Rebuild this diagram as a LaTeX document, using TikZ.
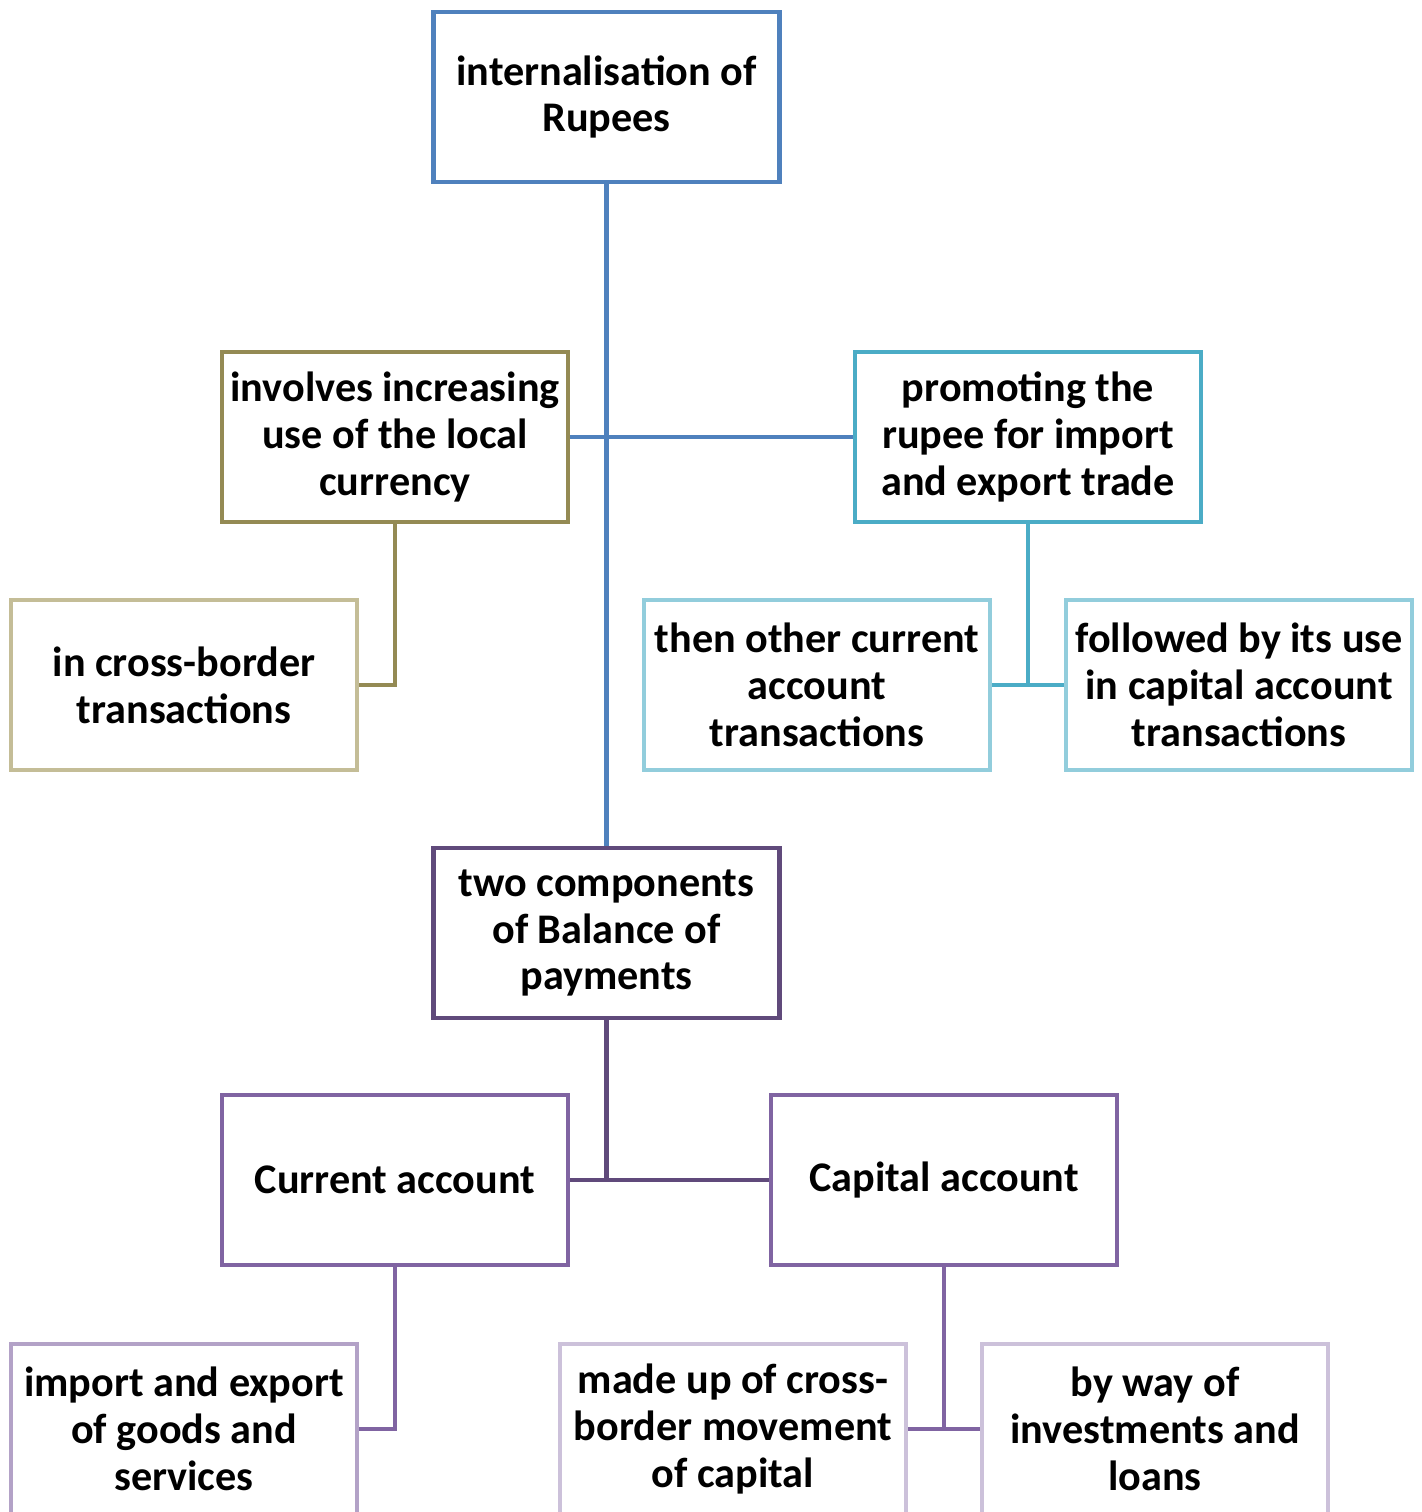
\documentclass[tikz,border=0pt]{standalone}
\usepackage{fontspec}
\setmainfont{Carlito}
\usepackage{tikz}
\usepackage{xcolor}
\usetikzlibrary{calc}

\definecolor{topblue}{HTML}{4F81BD}
\definecolor{olive}{HTML}{948A54}
\definecolor{paleolive}{HTML}{C4BD97}
\definecolor{teal}{HTML}{4BACC6}
\definecolor{paleteal}{HTML}{92CDDC}
\definecolor{darkpurple}{HTML}{604A7B}
\definecolor{purple}{HTML}{8064A2}
\definecolor{lilac}{HTML}{B3A2C7}
\definecolor{palelilac}{HTML}{CCC1DA}

\begin{document}
\begin{tikzpicture}[x=0.01cm, y=-0.01cm,
    box/.style={draw, line width=1.3pt, fill=white, minimum width=3.46cm, minimum height=1.70cm,
        align=center, font=\fontsize{12}{13.3}\selectfont\bfseries, inner sep=1pt},
    link/.style={line width=1.3pt}]
    \clip (0,0) rectangle (1421,1512);
    \useasboundingbox (0,0) rectangle (1421,1512);

    % elbow points of the connectors
    \coordinate (j2) at (395,685);
    \coordinate (j3) at (1028,685);
    \coordinate (j4) at (606.5,1180);
    \coordinate (j5) at (395,1429);
    \coordinate (j6) at (944,1429);

    % boxes
    \node[box, draw=topblue] (root) at (606.5,97) {internalisation of\\Rupees};
    \node[box, draw=olive] (local) at (395,437) {involves increasing\\use of the local\\currency};
    \node[box, draw=paleolive] (cross) at (184,685) {in cross-border\\transactions};
    \node[box, draw=teal] (trade) at (1028,437) {promoting the\\rupee for import\\and export trade};
    \node[box, draw=paleteal] (other) at (817,685) {then other current\\account\\transactions};
    \node[box, draw=paleteal] (capuse) at (1239,685) {followed by its use\\in capital account\\transactions};
    \node[box, draw=darkpurple] (bop) at (606.5,933) {two components\\of Balance of\\payments};
    \node[box, draw=purple] (curacc) at (395,1180) {Current account};
    \node[box, draw=purple] (capacc) at (944,1180) {Capital account};
    \node[box, draw=lilac] (goods) at (184,1429) {import and export\\of goods and\\services};
    \node[box, draw=palelilac] (move) at (733,1429) {made up of cross-\\border movement\\of capital};
    \node[box, draw=palelilac] (loans) at (1155,1429) {by way of\\investments and\\loans};

    \draw[link, topblue] (root.south) -- (bop.north);
    \draw[link, topblue] (local.east) -- (trade.west);
    \draw[link, olive] (local.south) -- (j2) -- (cross.east);
    \draw[link, teal] (trade.south) -- (j3);
    \draw[link, teal] (other.east) -- (capuse.west);
    \draw[link, darkpurple] (bop.south) -- (j4);
    \draw[link, darkpurple] (curacc.east) -- (capacc.west);
    \draw[link, purple] (curacc.south) -- (j5) -- (goods.east);
    \draw[link, purple] (capacc.south) -- (j6);
    \draw[link, purple] (move.east) -- (loans.west);
\end{tikzpicture}
\end{document}
